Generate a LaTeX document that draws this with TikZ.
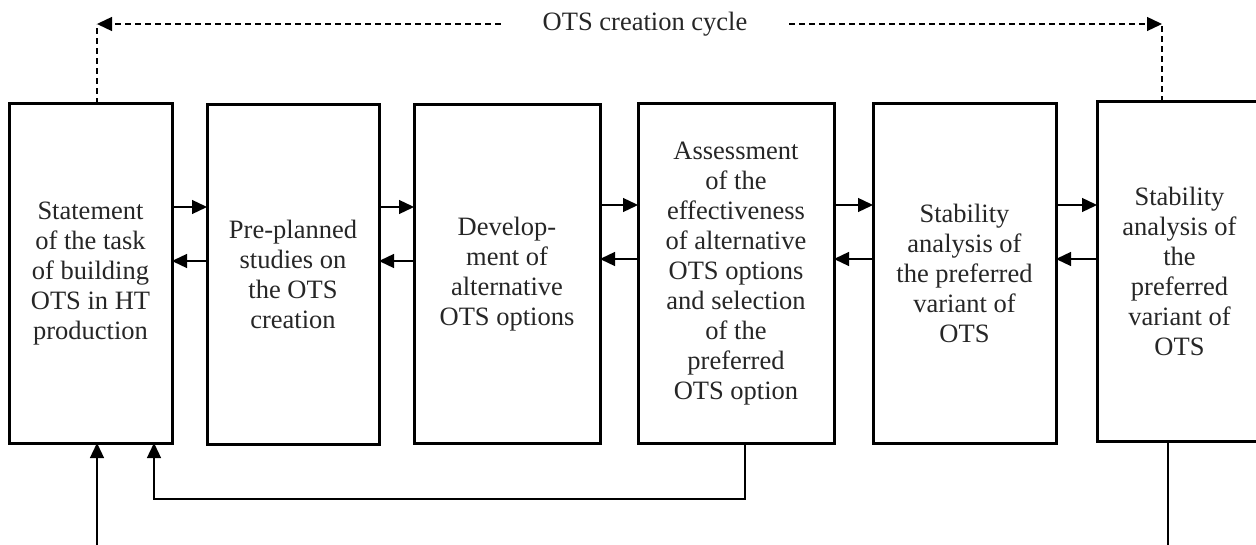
\documentclass[tikz,border=0pt]{standalone}
\usepackage{fontspec}
\setmainfont{Liberation Serif}
\usetikzlibrary{arrows.meta}

\tikzset{
  stage/.style={draw, line width=3pt, inner sep=0pt, outer sep=0pt,
    align=center, minimum height=339pt, text=black!85},
  link/.style={line width=1.3pt, -{Triangle[length=15pt,width=14pt]}},
  plain/.style={line width=1.3pt},
  cyc/.style={line width=1.2pt, dash pattern=on 6pt off 4pt},
  lab/.style={inner xsep=42pt, inner ysep=0pt, text=black!85}
}

\begin{document}
\begin{tikzpicture}[x=1pt, y=-1pt, font=\fontsize{26.5}{30}\selectfont]
  \clip (0,0) rectangle (1256,545);
  \useasboundingbox (0,0) rectangle (1256,545);

  % stages of the cycle
  \node[stage, minimum width=163pt] (b1) at (90.5,273.5)
    {Statement\\of the task\\of building\\OTS in HT\\production};
  \node[stage, minimum width=172pt] (b2) at (293,274.5)
    {Pre-planned\\studies on\\the OTS\\creation};
  \node[stage, minimum width=186pt] (b3) at (507,274)
    {Develop-\\ment of\\alternative\\OTS options};
  \node[stage, minimum width=196pt] (b4) at (736,273.5)
    {Assessment\\of the\\effectiveness\\of alternative\\OTS options\\and selection\\of the\\preferred\\OTS option};
  \node[stage, minimum width=183pt] (b5) at (964.5,273.5)
    {Stability\\analysis of\\the preferred\\variant of\\OTS};
  \node[stage, minimum width=165pt] (b6) at (1179.5,271.5)
    {Stability\\analysis of\\the\\preferred\\variant of\\OTS};

  % forward and backward links between neighbouring stages
  \coordinate (fwdA) at (0,207);  \coordinate (bwdA) at (0,261);
  \coordinate (fwdB) at (0,205);  \coordinate (bwdB) at (0,259);
  \draw[link] (b1.east |- fwdA) -- (b2.west |- fwdA);
  \draw[link] (b2.west |- bwdA) -- (b1.east |- bwdA);
  \draw[link] (b2.east |- fwdA) -- (b3.west |- fwdA);
  \draw[link] (b3.west |- bwdA) -- (b2.east |- bwdA);
  \draw[link] (b3.east |- fwdB) -- (b4.west |- fwdB);
  \draw[link] (b4.west |- bwdB) -- (b3.east |- bwdB);
  \draw[link] (b4.east |- fwdB) -- (b5.west |- fwdB);
  \draw[link] (b5.west |- bwdB) -- (b4.east |- bwdB);
  \draw[link] (b5.east |- fwdB) -- (b6.west |- fwdB);
  \draw[link] (b6.west |- bwdB) -- (b5.east |- bwdB);

  % cycle bracket on top
  \node[lab] (title) at (645,24) {OTS creation cycle};
  \coordinate (cl) at (97,24);
  \coordinate (cr) at (1162,24);
  \draw[cyc] (cl |- b1.north) -- (cl);
  \draw[cyc] (cr |- b6.north) -- (cr);
  \draw[cyc, link] (title.west) -- (cl);
  \draw[cyc, link] (title.east) -- (cr);

  % input, feedback and output lines
  \coordinate (inL) at (97,545);
  \draw[link] (inL) -- (inL |- b1.south);
  \coordinate (fb4) at (745,499);
  \coordinate (fb1) at (154,499);
  \draw[link] (fb4 |- b4.south) -- (fb4) -- (fb1) -- (fb1 |- b1.south);
  \coordinate (outR) at (1168,545);
  \draw[plain] (outR |- b6.south) -- (outR);
\end{tikzpicture}
\end{document}
